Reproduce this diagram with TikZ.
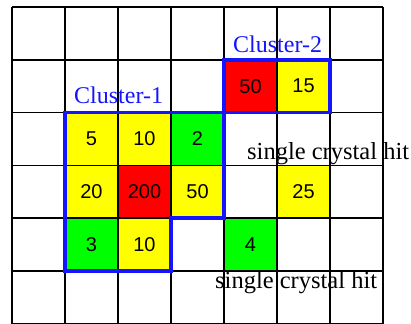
\documentclass[tikz,border=0pt]{standalone}
\usepackage{fontspec}
\setmainfont{Liberation Serif}
\newfontfamily\numfont{Liberation Sans}
\begin{document}
\begin{tikzpicture}[x=1pt,y=-1pt,
  hit/.style={minimum width=53pt, minimum height=52.8pt, inner sep=0pt,
              font=\numfont\fontsize{20}{20}\selectfont},
  yel/.style={hit, fill={rgb,255:red,255;green,255;blue,0}},
  redc/.style={hit, fill={rgb,255:red,255;green,0;blue,0}},
  grn/.style={hit, fill={rgb,255:red,0;green,255;blue,0}},
  gridline/.style={draw=black, line width=1.6pt},
  clusterline/.style={draw={rgb,255:red,20;green,20;blue,255}, line width=3.6pt, line join=miter},
  tag/.style={anchor=base west, inner sep=0pt, font=\fontsize{24.5}{24.5}\selectfont},
  ctag/.style={tag, font=\fontsize{24}{24}\selectfont, text={rgb,255:red,20;green,20;blue,255}}
]
\useasboundingbox (0,0) rectangle (411,323);
\clip (0,0) rectangle (411,323);

\begin{scope}[shift={(12,7)}, x=53pt, y=-52.8pt]
  % crystal energies
  \node[redc] (c41) at (4.5,1.5) {50};
  \node[yel]  (c51) at (5.5,1.5) {15};
  \node[yel]  (c12) at (1.5,2.5) {5};
  \node[yel]  (c22) at (2.5,2.5) {10};
  \node[grn]  (c32) at (3.5,2.5) {2};
  \node[yel]  (c13) at (1.5,3.5) {20};
  \node[redc] (c23) at (2.5,3.5) {200};
  \node[yel]  (c33) at (3.5,3.5) {50};
  \node[yel]  (c53) at (5.5,3.5) {25};
  \node[grn]  (c14) at (1.5,4.5) {3};
  \node[yel]  (c24) at (2.5,4.5) {10};
  \node[grn]  (c44) at (4.5,4.5) {4};

  % crystal grid
  \foreach \i in {0,...,7} \draw[gridline] (\i,0) -- (\i,6.3);
  \foreach \j in {0,...,6} \draw[gridline] (0,\j) -- (7,\j);

  % cluster boundaries
  \draw[clusterline] (1,2) -- (4,2) -- (4,4) -- (3,4) -- (3,5) -- (1,5) -- cycle;
  \draw[clusterline] (4,1) rectangle (6,2);
\end{scope}

\node[ctag] (cl1) at (74,104) {Cluster-1};
\node[ctag] (cl2) at (233,53) {Cluster-2};
\node[tag] (s1) at (247,159.5) {single crystal hit};
\node[tag] (s2) at (215,288) {single crystal hit};
\end{tikzpicture}
\end{document}
